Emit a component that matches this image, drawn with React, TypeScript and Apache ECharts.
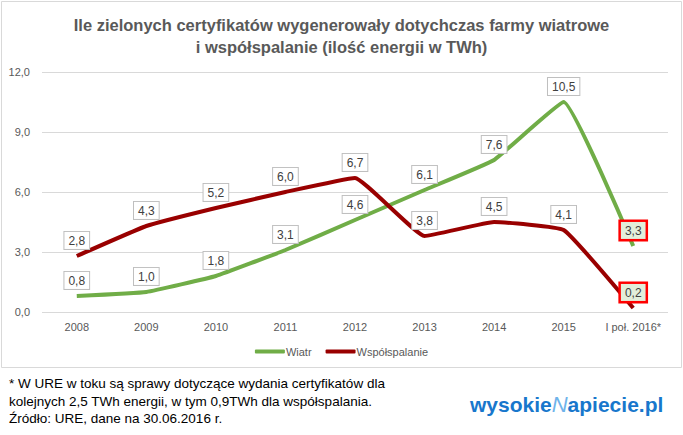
import React, { useEffect, useRef } from "react";
import * as echarts from "echarts";

const categories = ["2008", "2009", "2010", "2011", "2012", "2013", "2014", "2015", "I poł. 2016*"];
const wiatr = [0.8, 1.0, 1.8, 3.1, 4.6, 6.1, 7.6, 10.5, 3.3];
const wspolspalanie = [2.8, 4.3, 5.2, 6.0, 6.7, 3.8, 4.5, 4.1, 0.2];
const titleLines = [
  "Ile zielonych certyfikatów wygenerowały dotychczas farmy wiatrowe",
  "i współspalanie (ilość energii w TWh)",
];
const footnoteLines = [
  "* W URE w toku są sprawy dotyczące wydania certyfikatów dla",
  "kolejnych 2,5 TWh energii, w tym 0,9TWh dla współspalania.",
  "Źródło: URE, dane na 30.06.2016 r.",
];

const fmt = (v: number) => v.toFixed(1).replace(".", ",");

const baseLabel = {
  show: true,
  position: "top",
  distance: 7,
  formatter: (p: any) => fmt(Number(p.value)),
  color: "#404040",
  fontSize: 12,
  fontFamily: "Liberation Sans",
  backgroundColor: "#ffffff",
  borderColor: "#bfbfbf",
  borderWidth: 1,
  padding: [3, 4, 2, 4],
};

const hiLabel = {
  borderColor: "#ff0000",
  borderWidth: 2.5,
  backgroundColor: "#e2efda",
};

function mkData(arr: number[]) {
  return arr.map((v, i) =>
    i === arr.length - 1 ? { value: v, label: hiLabel } : v
  );
}

export default function App() {
  const ref = useRef<HTMLDivElement>(null);
  useEffect(() => {
    const chart = echarts.init(ref.current!, null, { renderer: "svg" });
    chart.setOption({
      animation: false,
      backgroundColor: "#ffffff",
      textStyle: { fontFamily: "Liberation Sans" },
      title: {
        text: titleLines.join("\n"),
        left: "center",
        top: 9,
        textStyle: {
          color: "#595959",
          fontSize: 16.5,
          fontWeight: "bold",
          lineHeight: 22,
          fontFamily: "Liberation Sans",
        },
      },
      grid: { left: 42, right: 15, top: 72, bottom: 123 },
      xAxis: {
        type: "category",
        data: categories,
        boundaryGap: true,
        axisLine: { show: false },
        axisTick: { show: false },
        axisLabel: { color: "#595959", fontSize: 11, margin: 9, interval: 0 },
      },
      yAxis: {
        type: "value",
        min: 0,
        max: 12,
        interval: 3,
        axisLabel: { color: "#595959", fontSize: 11, margin: 12, formatter: (v: number) => fmt(v) },
        splitLine: { lineStyle: { color: "#d9d9d9", width: 1 } },
      },
      legend: {
        bottom: 73,
        left: "center",
        itemWidth: 30,
        itemHeight: 4,
        itemGap: 14,
        icon: "roundRect",
        textStyle: { color: "#595959", fontSize: 11, padding: [0, 0, 0, -4] },
        data: ["Wiatr", "Współspalanie"],
      },
      series: [
        {
          name: "Wiatr",
          type: "line",
          data: mkData(wiatr),
          smooth: 0.1,
          symbol: "circle",
          symbolSize: 0.1,
          lineStyle: { color: "#70ad47", width: 4 },
          itemStyle: { color: "#70ad47" },
          label: baseLabel,
        },
        {
          name: "Współspalanie",
          type: "line",
          data: mkData(wspolspalanie),
          smooth: 0.1,
          symbol: "circle",
          symbolSize: 0.1,
          lineStyle: { color: "#990000", width: 4 },
          itemStyle: { color: "#990000" },
          label: baseLabel,
        },
      ],
      graphic: [
        {
          type: "rect",
          shape: { x: 1.5, y: 1.5, width: 680, height: 366 },
          style: { fill: "none", stroke: "#d9d9d9", lineWidth: 1 },
          silent: true,
        },
        {
          type: "text",
          left: 9,
          top: 375,
          style: {
            text: footnoteLines.join("\n"),
            fill: "#000000",
            fontSize: 13.5,
            lineHeight: 17.5,
            fontFamily: "Liberation Sans",
          },
        },
        {
          type: "text",
          left: 470,
          top: 393,
          style: {
            text: "{a|wysokie}{b|N}{a|apiecie.pl}",
            rich: {
              a: { fill: "#1877cc", fontSize: 21, fontWeight: "bold", fontFamily: "Liberation Sans" },
              b: { fill: "#6fb3ea", fontSize: 22, fontStyle: "italic", fontFamily: "Liberation Sans" },
            },
          },
        },
      ],
    });
    return () => chart.dispose();
  }, []);
  return (
    <div
      ref={ref}
      style={{ position: "fixed", left: 0, top: 0, width: 683, height: 435 }}
    />
  );
}
